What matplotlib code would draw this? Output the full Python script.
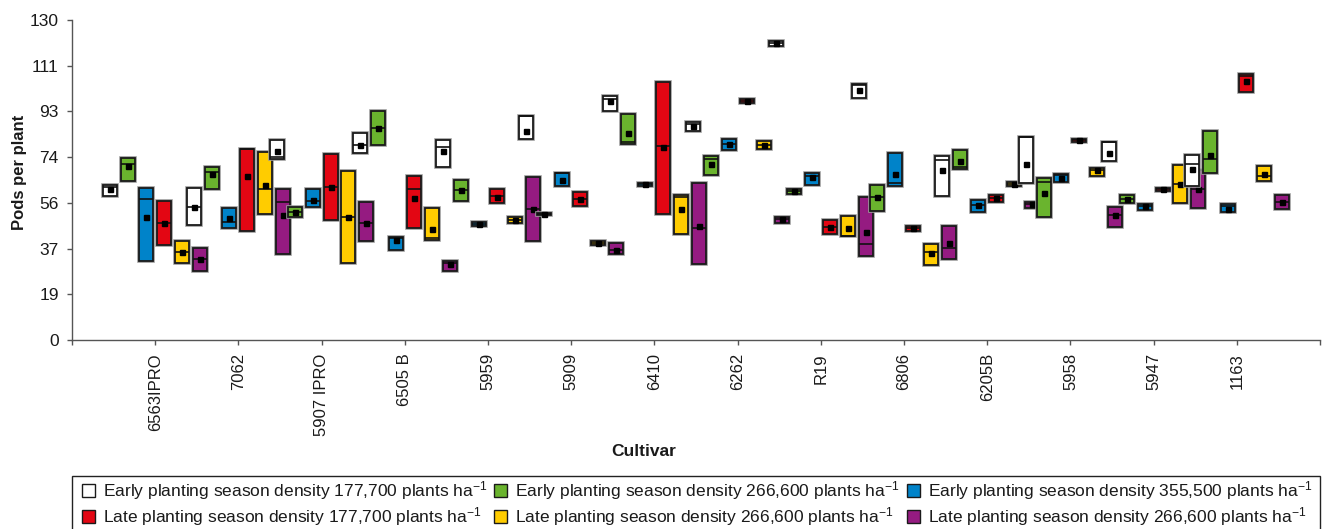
import matplotlib
matplotlib.use("Agg")
import matplotlib.pyplot as plt
import matplotlib.patheffects as pe
from matplotlib.patches import Patch, Rectangle
import numpy as np

FONT = ["Liberation Sans", "DejaVu Sans"]
plt.rcParams["font.family"] = FONT
plt.rcParams["mathtext.fontset"] = "custom"
plt.rcParams["mathtext.rm"] = "Liberation Sans"
plt.rcParams["mathtext.it"] = "Liberation Sans"
plt.rcParams["mathtext.bf"] = "Liberation Sans:bold"

cultivars = ["6563IPRO", "7062", "5907 IPRO", "6505 B", "5959", "5909", "6410",
             "6262", "R19", "6806", "6205B", "5958", "5947", "1163"]

y_ticks_labels = ["0", "19", "37", "56", "74", "93", "111", "130"]

# Early season, 177,700 plants/ha
early177_min = [58.6, 46.6, 73.4, 76.1, 70.2, 81.7, 93.2, 84.8, 119.6, 98.3, 58.6, 63.9, 72.7, 62.6]
early177_max = [63.0, 61.8, 81.1, 84.0, 81.1, 91.0, 99.1, 88.4, 121.3, 103.9, 74.8, 82.3, 80.4, 75.0]
early177_med = [62.3, 54.2, 74.5, 79.4, 78.4, 91.0, 97.9, 87.8, 120.5, 103.5, 73.1, 82.3, 80.4, 71.6]
early177_mean = [61.2, 54.2, 76.7, 79.4, 76.7, 84.8, 97.0, 86.8, 120.5, 101.4, 69.1, 71.6, 76.1, 69.6]

# Early season, 266,600 plants/ha
early266_min = [64.7, 61.2, 49.8, 79.4, 56.6, 50.7, 79.5, 66.9, 59.4, 52.3, 69.6, 49.8, 55.7, 68.0]
early266_max = [73.8, 70.4, 54.2, 93.0, 65.0, 51.5, 91.7, 74.9, 61.3, 63.0, 77.1, 65.8, 58.9, 84.8]
early266_med = [71.5, 68.3, 51.9, 86.2, 60.8, 51.1, 80.6, 73.4, 60.4, 58.2, 70.4, 64.1, 57.3, 73.4]
early266_mean = [70.6, 67.3, 51.9, 86.2, 60.8, 51.1, 84.0, 71.4, 60.4, 58.2, 72.6, 59.8, 57.3, 75.3]

# Early season, 355,500 plants/ha
early355_min = [32.0, 45.4, 54.2, 36.6, 46.2, 62.7, 62.7, 77.3, 63.1, 62.6, 52.1, 64.2, 52.9, 51.9]
early355_max = [61.8, 53.6, 61.2, 42.0, 47.8, 67.7, 63.7, 81.8, 67.7, 75.8, 56.8, 67.6, 55.4, 55.1]
early355_med = [57.4, 47.9, 56.5, 41.3, 47.0, 67.7, 63.2, 79.5, 66.6, 63.7, 54.7, 67.0, 54.6, 54.6]
early355_mean = [49.8, 49.4, 57.0, 40.6, 47.0, 65.0, 63.2, 79.5, 66.3, 67.4, 54.7, 65.7, 54.6, 53.1]

# Late season, 177,700 plants/ha
late177_min = [38.7, 44.2, 48.6, 45.6, 55.5, 54.3, 51.1, 96.4, 43.2, 44.4, 55.9, 80.4, 60.5, 100.8]
late177_max = [56.3, 77.6, 75.7, 66.5, 61.2, 60.0, 104.7, 98.0, 48.8, 46.3, 59.0, 81.7, 61.8, 108.1]
late177_med = [47.7, 77.6, 62.2, 61.3, 58.5, 57.2, 78.9, 97.2, 46.0, 45.4, 57.6, 81.1, 61.2, 107.2]
late177_mean = [47.5, 66.5, 62.2, 57.7, 58.2, 57.2, 78.4, 97.2, 46.0, 45.4, 57.6, 81.1, 61.2, 105.3]

# Late season, 266,600 plants/ha
late266_min = [31.1, 51.3, 31.1, 40.5, 47.7, 38.6, 43.2, 77.6, 42.3, 30.5, 62.6, 66.7, 55.8, 64.6]
late266_max = [40.3, 76.3, 68.5, 53.7, 49.8, 40.3, 58.8, 81.0, 50.2, 38.9, 64.3, 70.0, 71.1, 70.8]
late266_med = [35.9, 61.2, 49.8, 41.3, 48.8, 39.5, 58.0, 79.4, 42.3, 35.8, 63.5, 69.2, 63.4, 66.6]
late266_mean = [35.9, 63.0, 49.8, 45.1, 48.8, 39.5, 53.1, 79.4, 45.4, 35.2, 63.5, 69.2, 63.4, 67.4]

# Late season, highest density
late355_min = [28.2, 34.8, 40.3, 28.2, 40.1, 34.9, 30.9, 47.7, 34.0, 32.8, 53.5, 46.0, 53.5, 53.3]
late355_max = [37.5, 61.3, 56.1, 32.2, 66.2, 39.3, 63.7, 50.1, 58.0, 46.3, 56.1, 53.9, 68.9, 59.0]
late355_med = [33.0, 56.2, 47.7, 31.1, 53.2, 36.7, 45.6, 49.0, 38.9, 37.3, 55.1, 50.7, 61.3, 55.9]
late355_mean = [33.0, 50.9, 47.5, 30.9, 53.2, 36.7, 46.4, 49.0, 43.8, 39.3, 55.1, 50.7, 61.3, 55.9]

series_labels = [
    "Early planting season density 177,700 plants ha$^{-1}$",
    "Early planting season density 266,600 plants ha$^{-1}$",
    "Early planting season density 355,500 plants ha$^{-1}$",
    "Late planting season density 177,700 plants ha$^{-1}$",
    "Late planting season density 266,600 plants ha$^{-1}$",
    "Late planting season density 266,600 plants ha$^{-1}$",
]
series_colors = ["#ffffff", "#6ab42e", "#0083c9", "#e30613", "#ffcc00", "#951b81"]

series = [
    (early177_min, early177_max, early177_med, early177_mean),
    (early266_min, early266_max, early266_med, early266_mean),
    (early355_min, early355_max, early355_med, early355_mean),
    (late177_min, late177_max, late177_med, late177_mean),
    (late266_min, late266_max, late266_med, late266_mean),
    (late355_min, late355_max, late355_med, late355_mean),
]

TEXT = "#1a1a1a"
W, H = 1325, 529
fig = plt.figure(figsize=(W / 100, H / 100), dpi=100)
ax = fig.add_axes([72 / W, (H - 340) / H, 1248 / W, 320 / H])

n_series = len(series)
step = 0.215
box_w = 0.168
halo = [pe.Stroke(linewidth=2.6, foreground="#9a9a9a"), pe.Normal()]

z = 2
for ci in range(len(cultivars)):
    center = ci + 1
    for si, (lo, hi, med, mean) in enumerate(series):
        xpos = center + (si - (n_series - 1) / 2) * step
        bars = ax.bar(xpos, hi[ci] - lo[ci], bottom=lo[ci], width=box_w,
                      color=series_colors[si], edgecolor="#1a1a1a",
                      linewidth=1.3, zorder=z)
        bars[0].set_path_effects(halo)
        ax.hlines(med[ci], xpos - box_w / 2, xpos + box_w / 2,
                  color="#111111", linewidth=1.2, zorder=z + 0.1)
        ax.plot(xpos, mean[ci], marker="s", markersize=3.6, color="#000000",
                linestyle="none", zorder=z + 0.2)
        z += 1

ax.set_xlim(0, len(cultivars) + 1)
ax.set_ylim(0, 130)

ax.set_xticks(np.arange(0, len(cultivars) + 2))
ax.set_xticklabels([""] + cultivars + [""], rotation=90, fontsize=12,
                   color=TEXT)
ax.set_yticks(np.arange(8) * 130 / 7)
ax.set_yticklabels(y_ticks_labels, fontsize=12.5, color=TEXT)

for side in ("top", "right"):
    ax.spines[side].set_visible(False)
for side in ("left", "bottom"):
    ax.spines[side].set_color("#555555")
    ax.spines[side].set_linewidth(1.0)
ax.tick_params(axis="both", direction="out", length=3.5, width=1.0, color="#555555")
ax.tick_params(axis="x", pad=6)
ax.tick_params(axis="y", pad=6)

fig.text(20 / W, 1 - 172 / H, "Pods per plant", rotation=90, ha="center",
         va="center", fontsize=12, fontweight="bold", color=TEXT)
fig.text(644 / W, 1 - 451 / H, "Cultivar", ha="center", va="center",
         fontsize=12.5, fontweight="bold", color=TEXT)

# legend frame runs past the lower edge of the canvas
fig.patches.append(Rectangle((72 / W, -0.05), 1248 / W, (1 - 476 / H) + 0.05,
                             transform=fig.transFigure, fill=False,
                             edgecolor="#222222", linewidth=1.0))

order = [0, 3, 1, 4, 2, 5]
handles = [Patch(facecolor=series_colors[i], edgecolor="#1a1a1a", linewidth=1.0)
           for i in order]
labels = [series_labels[i] for i in order]
leg = fig.legend(handles, labels, ncol=3, loc="upper left",
                 bbox_to_anchor=(82 / W, 0.0, 1230 / W, 1 - 479 / H),
                 mode="expand", borderaxespad=0.0, frameon=False,
                 fontsize=12.5, handlelength=0.75, handleheight=0.75,
                 handletextpad=0.45, labelspacing=0.2, borderpad=0.0)
for t in leg.get_texts():
    t.set_color(TEXT)

fig.savefig("out.png", dpi=100)
